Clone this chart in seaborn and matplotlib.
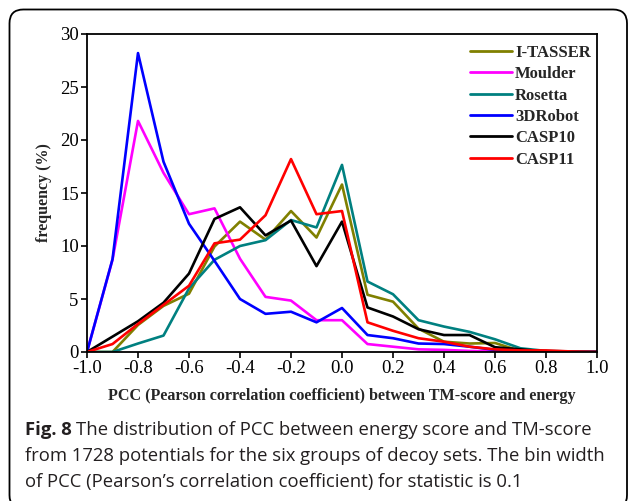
import numpy as np
import pandas as pd
import matplotlib
matplotlib.use("Agg")
import matplotlib.pyplot as plt
import seaborn as sns
from matplotlib.patches import FancyBboxPatch

pcc = [-1.0, -0.9, -0.8, -0.7, -0.6, -0.5, -0.4, -0.3, -0.2, -0.1, 0.0,
       0.1, 0.2, 0.3, 0.4, 0.5, 0.6, 0.7, 0.8, 0.9, 1.0]

itasser = [0, 0, 2.55, 4.35, 5.5, 9.95, 12.3, 10.6, 13.3, 10.8, 15.8,
           5.4, 4.75, 2.2, 0.97, 0.8, 0.85, 0.1, 0, 0, 0]
moulder = [0, 8.7, 21.8, 16.9, 13.0, 13.55, 8.8, 5.2, 4.85, 3.0, 3.0,
           0.75, 0.5, 0.25, 0.2, 0.1, 0.05, 0, 0, 0, 0]
rosetta = [0, 0, 0.8, 1.55, 6.0, 8.7, 10.0, 10.55, 12.45, 11.75, 17.65,
           6.65, 5.45, 3.0, 2.4, 1.9, 1.2, 0.35, 0.1, 0.05, 0]
robot3d = [0, 8.75, 28.2, 17.95, 12.1, 8.6, 5.0, 3.6, 3.8, 2.8, 4.15,
           1.6, 1.3, 0.8, 0.75, 0.5, 0.2, 0.05, 0, 0, 0]
casp10 = [0, 1.45, 2.9, 4.65, 7.4, 12.55, 13.65, 11.0, 12.4, 8.1, 12.3,
          4.2, 3.35, 2.15, 1.6, 1.6, 0.45, 0.25, 0.05, 0, 0]
casp11 = [0, 0.75, 2.65, 4.45, 6.25, 10.25, 10.6, 12.9, 18.2, 13.0, 13.3,
          2.8, 2.0, 1.3, 0.97, 0.5, 0.25, 0.15, 0.15, 0.05, 0]

groups = ["I-TASSER", "Moulder", "Rosetta", "3DRobot", "CASP10", "CASP11"]
colors = ["#808000", "#FF00FF", "#008080", "#0000FF", "#000000", "#FF0000"]
xticks = [-1.0, -0.8, -0.6, -0.4, -0.2, 0.0, 0.2, 0.4, 0.6, 0.8, 1.0]
yticks = [0, 5, 10, 15, 20, 25, 30]

series = [itasser, moulder, rosetta, robot3d, casp10, casp11]
df = pd.concat([pd.DataFrame({"pcc": pcc, "freq": s, "group": g})
                for g, s in zip(groups, series)], ignore_index=True)

sns.set_style("ticks")
plt.rcParams["font.family"] = ["Liberation Serif", "DejaVu Serif"]
plt.rcParams["axes.linewidth"] = 1.3
plt.rcParams["xtick.major.width"] = 1.2
plt.rcParams["ytick.major.width"] = 1.2
plt.rcParams["xtick.major.size"] = 4
plt.rcParams["ytick.major.size"] = 4
plt.rcParams["xtick.color"] = "black"
plt.rcParams["ytick.color"] = "black"
plt.rcParams["axes.edgecolor"] = "black"

W, H = 630, 501
fig = plt.figure(figsize=(W / 100, H / 100), dpi=100)
ax = fig.add_axes([87 / W, 1 - 352 / H, (597 - 87) / W, (352 - 34) / H])

sns.lineplot(data=df, x="pcc", y="freq", hue="group", hue_order=groups,
             palette=colors, linewidth=1.9, ax=ax, legend=True)

ax.set_xlim(-1.0, 1.0)
ax.set_ylim(0, 30)
ax.set_xticks(xticks)
ax.set_xticklabels([f"{t:.1f}" for t in xticks])
ax.set_yticks(yticks)
ax.tick_params(labelsize=13.5, pad=2)
ax.set_xlabel("PCC (Pearson correlation coefficient) between TM-score and energy",
              fontsize=11.6, fontweight="bold", labelpad=8)
ax.set_ylabel("frequency (%)", fontsize=11.5, fontweight="bold", labelpad=6)
for s in ax.spines.values():
    s.set_visible(True)
    s.set_color("black")

leg = ax.legend(loc="upper left", bbox_to_anchor=(470 / W, 1 - 45 / H),
                bbox_transform=fig.transFigure, frameon=False,
                prop={"family": "Liberation Serif", "weight": "bold", "size": 12},
                handlelength=2.5, handletextpad=0.2, labelspacing=0.32,
                borderpad=0, borderaxespad=0)
for h in leg.get_lines():
    h.set_linewidth(2.0)

# rounded border
box = FancyBboxPatch((9.5 / W, -8 / H), (627 - 9.5) / W, (H - 9.5 + 8) / H,
                     boxstyle="round,pad=0,rounding_size=0.022",
                     transform=fig.transFigure, fill=False, edgecolor="black",
                     linewidth=1.3, mutation_aspect=W / H)
fig.patches.append(box)

cap_font = ["Open Sans", "DejaVu Sans"]
fs = 13.3
fig.text(25 / W, 1 - 435 / H, "Fig. 8", fontsize=fs, fontweight="bold",
         family=cap_font, va="baseline", ha="left", color="#231f20")
t1 = fig.text(0, 0, "Fig. 8 ", fontsize=fs, fontweight="bold", family=cap_font)
fig.canvas.draw()
r = fig.canvas.get_renderer()
wpx = t1.get_window_extent(r).width
t1.remove()
fig.text((25 + wpx) / W, 1 - 435 / H,
         "The distribution of PCC between energy score and TM-score",
         fontsize=fs, family=cap_font, va="baseline", ha="left", color="#231f20")
fig.text(25 / W, 1 - 461 / H,
         "from 1728 potentials for the six groups of decoy sets. The bin width",
         fontsize=fs, family=cap_font, va="baseline", ha="left", color="#231f20")
fig.text(25 / W, 1 - 487 / H,
         "of PCC (Pearson\u2019s correlation coefficient) for statistic is 0.1",
         fontsize=fs, family=cap_font, va="baseline", ha="left", color="#231f20")

fig.savefig("out.png", dpi=100)
